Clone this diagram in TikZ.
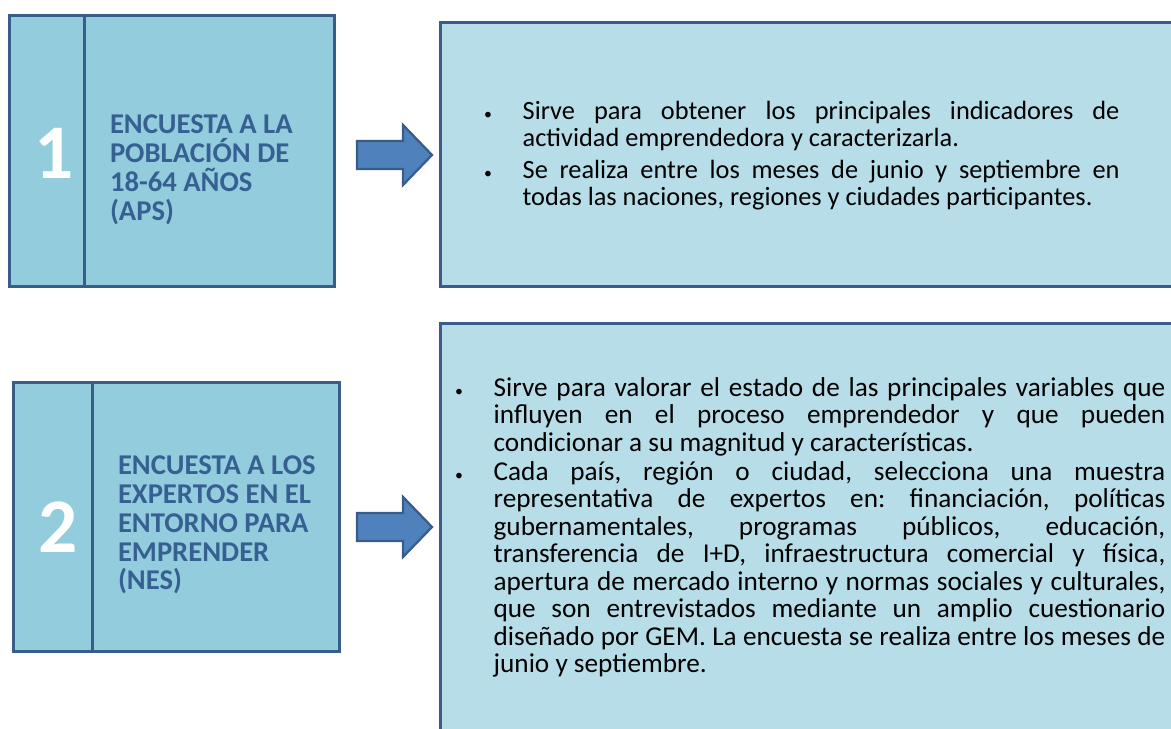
\documentclass[tikz,border=0pt]{standalone}
\usepackage{fontspec}
\setmainfont{Carlito}
\usepackage{enumitem}
\usetikzlibrary{positioning,calc}
\definecolor{cellblue}{HTML}{93CDDD}
\definecolor{infoblue}{HTML}{B7DEE8}
\definecolor{edgeblue}{HTML}{385D8A}
\definecolor{titleblue}{HTML}{376092}
\definecolor{arrowblue}{HTML}{4F81BD}
\def\pxu{0.02cm}
\hyphenpenalty=10000
\tolerance=10000
\frenchspacing
\newlist{facts}{itemize}{1}
\setlist[facts]{label={\small\textbullet}, leftmargin=22pt, labelwidth=22pt,
  labelsep=0pt, align=left, itemsep=0pt, topsep=0pt, parsep=0pt, partopsep=0pt}
\tikzset{
  pics/blockarrow/.style={code={
    \draw[draw=edgeblue, line width=1.3pt, fill=arrowblue, line join=miter]
      (-75,-14) -- (-29,-14) -- (-29,-30) -- (0,0) -- (-29,30) -- (-29,14) -- (-75,14) -- cycle;
  }}
}

\begin{document}
\begin{tikzpicture}[
  x=\pxu, y=-\pxu,
  every node/.style={inner sep=0pt, outer sep=0pt},
  numcell/.style={draw=edgeblue, line width=1.7pt, fill=cellblue},
  numtext/.style={text=white, font=\fontsize{44}{44}\selectfont\bfseries},
  titlecell/.style={draw=edgeblue, line width=1.7pt, fill=cellblue},
  infobox/.style={draw=edgeblue, line width=1.7pt, fill=infoblue},
  titletext/.style={anchor=west, align=left, text=titleblue,
    font=\fontsize{16.3}{16.4}\selectfont\bfseries},
  bodytext/.style={anchor=west, text width=#1, align=justify,
    font=\fontsize{15.5}{15.65}\selectfont}
]
  \useasboundingbox (0,0) rectangle (1171,729);
  \clip (0,0) rectangle (1171,729);

  % First survey
  \node[numcell, minimum width=1.52cm, minimum height=5.44cm] (apsNum) at (47,151) {};
  \node[titlecell, minimum width=5cm, minimum height=5.44cm, right=0pt of apsNum] (apsTitle) {};
  \node[numtext] (apsDigit) at (54,153) {1};
  \node[titletext] (apsText) at (110,170) {ENCUESTA A LA\\POBLACIÓN DE\\18-64 AÑOS\\(APS)};
  \node[infobox, minimum width=15.2cm, minimum height=5.3cm] (apsInfo) at (820,154.5) {};
  \node[bodytext=361.7pt, font=\fontsize{15}{15.3}\selectfont] (apsBody) at (484,151) {%
    \begin{facts}[itemsep=3pt]
      \item Sirve para obtener los principales indicadores de\linebreak
        actividad emprendedora y caracterizarla.
      \item Se realiza entre los meses de junio y septiembre en\linebreak
        todas las naciones, regiones y ciudades participantes.
    \end{facts}};
  \pic at (432,155) {blockarrow};

  % Second survey
  \node[numcell, minimum width=1.6cm, minimum height=5.4cm] (nesNum) at (53,517) {};
  \node[titlecell, minimum width=4.94cm, minimum height=5.4cm, right=0pt of nesNum] (nesTitle) {};
  \node[numtext] (nesDigit) at (58,527) {2};
  \node[titletext] (nesText) at (118,525) {ENCUESTA A LOS\\EXPERTOS EN EL\\ENTORNO PARA\\EMPRENDER\\(NES)};
  \node[infobox, minimum width=15.2cm, minimum height=9.54cm] (nesInfo) at (820,561.5) {};
  \node[bodytext=404.3pt] (nesBody) at (455,523) {%
    \begin{facts}[itemsep=1pt]
      \item Sirve para valorar el estado de las principales variables que\linebreak
        influyen en el proceso emprendedor y que pueden\linebreak
        condicionar a su magnitud y características.
      \item Cada país, región o ciudad, selecciona una muestra\linebreak
        representativa de expertos en: financiación, políticas\linebreak
        gubernamentales, programas públicos, educación,\linebreak
        transferencia de I+D, infraestructura comercial y física,\linebreak
        apertura de mercado interno y normas sociales y culturales,\linebreak
        que son entrevistados mediante un amplio cuestionario\linebreak
        diseñado por GEM. La encuesta se realiza entre los meses de\linebreak
        junio y septiembre.
    \end{facts}};
  \pic at (432,527) {blockarrow};
\end{tikzpicture}
\end{document}
